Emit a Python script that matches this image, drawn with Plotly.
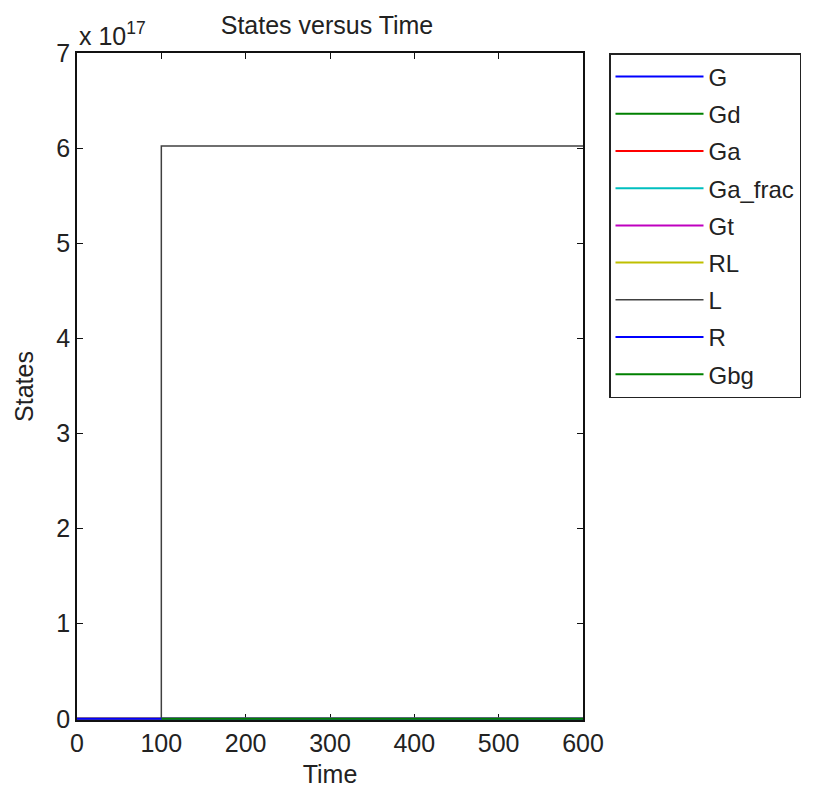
import plotly.graph_objects as go

# ---- data ----
time = [0, 100, 100, 600]
G = [0, 0, 0, 0]
Gd = [0, 0, 0, 0]
Ga = [0, 0, 0, 0]
Ga_frac = [0, 0, 0, 0]
Gt = [0, 0, 0, 0]
RL = [0, 0, 0, 0]
L = [0, 0, 6.022e17, 6.022e17]
R = [0, 0, 0, 0]
time_bg = [100, 600]
Gbg = [0, 0]

series_names = ["G", "Gd", "Ga", "Ga_frac", "Gt", "RL", "L", "R", "Gbg"]
series_x = [time, time, time, time, time, time, time, time, time_bg]
series_y = [G, Gd, Ga, Ga_frac, Gt, RL, L, R, Gbg]
colors = ["#0000FF", "#008000", "#FF0000", "#00BFBF", "#BF00BF",
          "#BFBF00", "#404040", "#0000FF", "#008000"]

y_tick_vals = [0, 1e17, 2e17, 3e17, 4e17, 5e17, 6e17, 7e17]
y_tick_text = ["0", "1", "2", "3", "4", "5", "6", "7"]
x_tick_vals = [0, 100, 200, 300, 400, 500, 600]

FONT = "Liberation Sans"
FS = 25
TXT = "#222222"

# page has an 8px body margin, so the figure is 8px smaller and offset
W, H = 805, 782
PL, PR, PT, PB = 69, W - 575, 45, H - 712

fig = go.Figure()
for name, xs, ys, c in zip(series_names, series_x, series_y, colors):
    fig.add_trace(go.Scatter(
        x=xs, y=ys, mode="lines", name=name, legendgroup=name,
        line=dict(color=c, width=1.5 if name == "L" else 2),
    ))

axis_common = dict(
    showgrid=False, zeroline=False, showline=True, linecolor="#111",
    linewidth=1.5, mirror="ticks", ticks="inside", ticklen=6,
    tickcolor="#111", tickwidth=1, layer="below traces",
    tickfont=dict(family=FONT, size=FS, color=TXT),
)

fig.update_layout(
    width=W, height=H,
    margin=dict(l=PL, r=PR, t=PT, b=PB, autoexpand=False),
    paper_bgcolor="white", plot_bgcolor="white",
    font=dict(family=FONT, size=FS, color=TXT),
    title=dict(text="States versus Time", x=(327 - 8) / W,
               xanchor="center", y=1 - (25 - 8) / H, yanchor="middle",
               yref="container", xref="container",
               font=dict(family=FONT, size=FS, color=TXT)),
    xaxis=dict(range=[0, 600], tickvals=x_tick_vals,
               title=dict(text="Time", standoff=10,
                          font=dict(family=FONT, size=FS, color=TXT)),
               **axis_common),
    yaxis=dict(range=[-1.2e15, 7e17], tickvals=y_tick_vals,
               ticktext=y_tick_text,
               title=dict(text="States", standoff=16,
                          font=dict(family=FONT, size=FS, color=TXT)),
               **axis_common),
    showlegend=True,
    legend=dict(x=(609 - 77) / (W - PL - PR), xanchor="left", y=1.0,
                yanchor="top",
                bordercolor="#222", borderwidth=1.5, bgcolor="white",
                font=dict(family=FONT, size=FS - 1, color=TXT),
                tracegroupgap=3, itemwidth=88,
                traceorder="grouped"),
)

fig.add_annotation(text="x 10<sup>17</sup>", xref="paper", yref="paper",
                   x=0, y=1, xanchor="left", yanchor="bottom", showarrow=False,
                   font=dict(family=FONT, size=FS, color=TXT), yshift=1)

fig.write_html("out.html")
